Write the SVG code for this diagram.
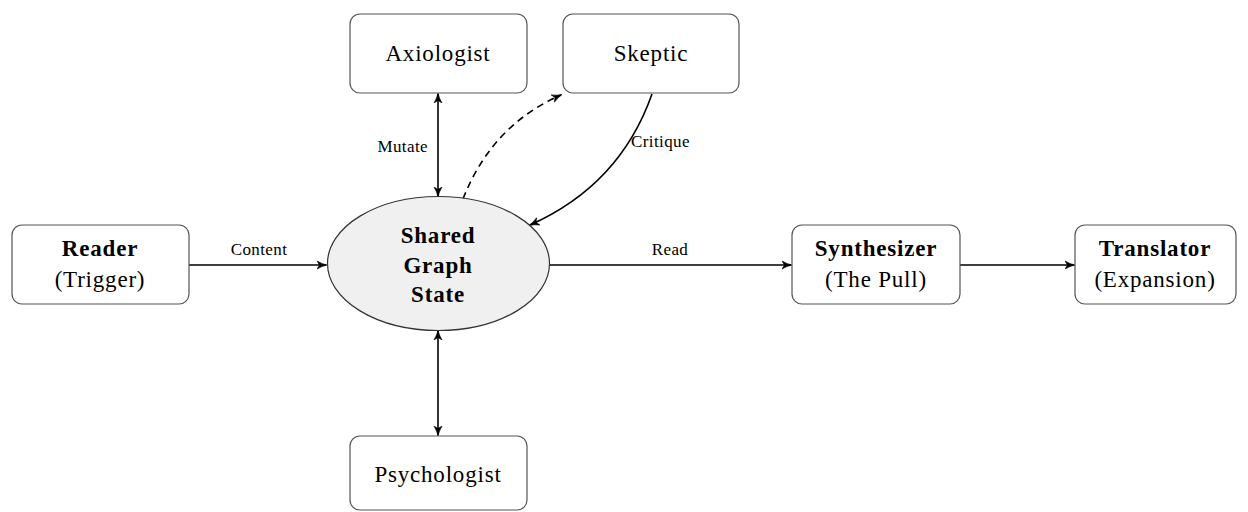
<svg xmlns="http://www.w3.org/2000/svg" width="1248" height="512" viewBox="0 0 1248 512">
<style>
.box{fill:#fff;stroke:#555;stroke-width:1.2}
.t{font-family:"Liberation Serif","DejaVu Serif",serif;font-size:23px;letter-spacing:0.8px;fill:#000;text-anchor:middle}
.b{font-weight:bold}
.lbl{font-family:"Liberation Serif","DejaVu Serif",serif;font-size:17px;letter-spacing:0.4px;fill:#000}
.e{fill:none;stroke:#000;stroke-width:1.6}
</style>
<defs>
<marker id="ah" viewBox="0 0 10 10" refX="9" refY="5" markerWidth="10" markerHeight="10" orient="auto-start-reverse" markerUnits="userSpaceOnUse">
<path d="M0,1 Q5,4 10,5 Q5,6 0,9 L2.5,5 Z" fill="#000" stroke="#000" stroke-width="0.6"/>
</marker>
</defs>
<rect width="1248" height="512" fill="#fff"/>
<g id="connectors">
<line class="e" x1="189" y1="265" x2="326" y2="265" marker-end="url(#ah)"/>
<text class="lbl" x="259" y="255" text-anchor="middle">Content</text>
<line class="e" x1="550" y1="265" x2="791" y2="265" marker-end="url(#ah)"/>
<text class="lbl" x="670" y="255" text-anchor="middle">Read</text>
<line class="e" x1="960" y1="265" x2="1074" y2="265" marker-end="url(#ah)"/>
<line class="e" x1="438" y1="94" x2="438" y2="196" marker-start="url(#ah)" marker-end="url(#ah)"/>
<text class="lbl" x="428" y="152" text-anchor="end">Mutate</text>
<line class="e" x1="438" y1="331" x2="438" y2="435" marker-start="url(#ah)" marker-end="url(#ah)"/>
<path class="e" d="M463,199 Q492,125 561,95" stroke-dasharray="7,5" marker-end="url(#ah)"/>
<path class="e" d="M652,94 Q620,185 530,225" marker-end="url(#ah)"/>
<text class="lbl" x="631" y="147">Critique</text>
</g>
<g id="reader">
<rect class="box" x="12" y="225" width="177" height="79" rx="10"/>
<text class="t b" x="100" y="256">Reader</text>
<text class="t" x="100" y="287">(Trigger)</text>
</g>
<g id="state">
<ellipse cx="438.5" cy="263.5" rx="111" ry="67" fill="#f0f0f0" stroke="#333" stroke-width="1.2"/>
<text class="t b" x="438" y="243">Shared</text>
<text class="t b" x="438" y="273">Graph</text>
<text class="t b" x="438" y="302">State</text>
</g>
<g id="axiologist">
<rect class="box" x="350" y="14" width="177" height="79" rx="10"/>
<text class="t" x="438" y="61">Axiologist</text>
</g>
<g id="skeptic">
<rect class="box" x="563" y="14" width="176" height="79" rx="10"/>
<text class="t" x="651" y="61">Skeptic</text>
</g>
<g id="psychologist">
<rect class="box" x="350" y="436" width="177" height="74" rx="10"/>
<text class="t" x="438" y="482">Psychologist</text>
</g>
<g id="synthesizer">
<rect class="box" x="792" y="225" width="168" height="79" rx="10"/>
<text class="t b" x="876" y="256">Synthesizer</text>
<text class="t" x="876" y="287">(The Pull)</text>
</g>
<g id="translator">
<rect class="box" x="1075" y="225" width="161" height="79" rx="10"/>
<text class="t b" x="1155" y="256">Translator</text>
<text class="t" x="1155" y="287">(Expansion)</text>
</g>
</svg>
